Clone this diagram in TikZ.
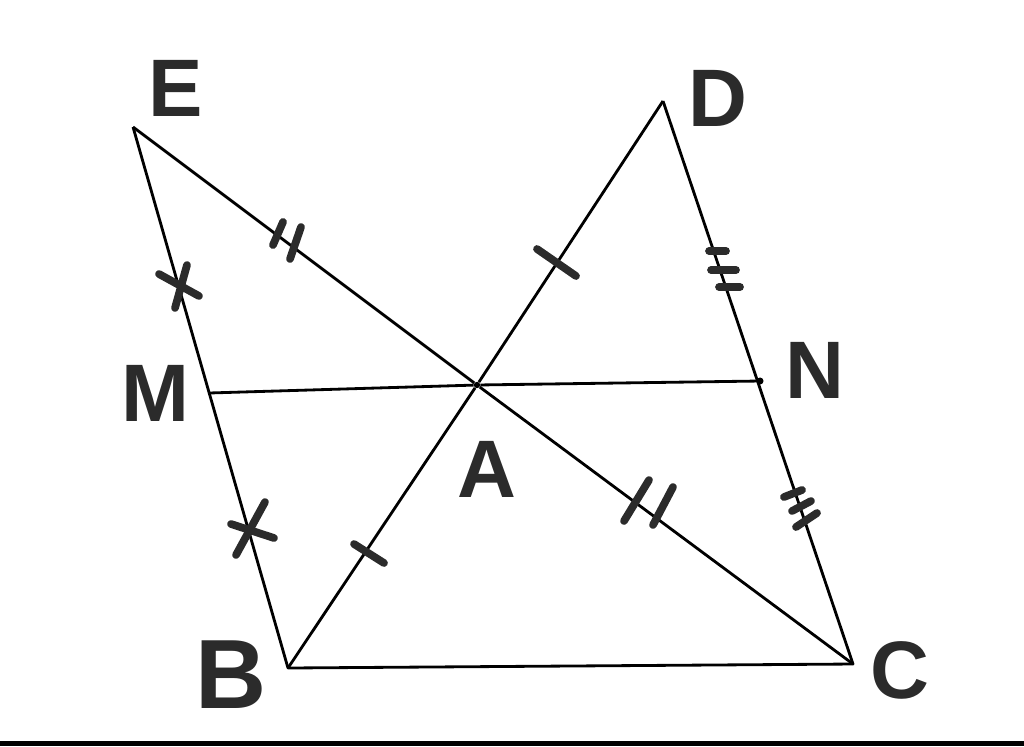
\documentclass[tikz,border=0pt]{standalone}
\usepackage{fontspec}
\setmainfont{Liberation Sans}
\usetikzlibrary{calc}
\definecolor{pen}{gray}{0.17}
\tikzset{lbl/.style={font=\fontsize{58}{58}\selectfont\bfseries,text=pen,inner sep=0pt},
  eqmark/.style={line width=5.5pt,color=pen,line cap=round},
  side/.style={line width=2pt,line join=round}}
\begin{document}
\begin{tikzpicture}[x=0.025cm,y=-0.025cm]
              \useasboundingbox (0,0) rectangle (1024,746);
              \fill (0,741) rectangle (1024,746);
              \coordinate (E) at (133,127);
              \coordinate (D) at (663,101);
              \coordinate (B) at (288,668);
              \coordinate (C) at (853,664);
              \coordinate (M) at (209,393);
              \coordinate (N) at (760,381);
              \node[circle,fill,inner sep=1.6pt](A)at(477,385){};
              \draw[side] (E)--(B)--(C)--(D);
              \draw[side] (E)--(A)--(C);
              \draw[side] (D)--(A)--(B);
              \draw[side] (M)--(A)--(N);
              \fill (N) circle (2.5pt);
              % equal marks
              \draw[eqmark] (283,222)--(273,245);
              \draw[eqmark] (301,227)--(290,259);
              \draw[eqmark] (649,480)--(624,521);
              \draw[eqmark] (673,487)--(653,525);
              \draw[eqmark] (537,249)--(576,276);
              \draw[eqmark] (354,544)--(384,563);
              \draw[eqmark] (159,274)--(199,296);
              \draw[eqmark] (187,265)--(175,308);
              \draw[eqmark] (231,524)--(274,538);
              \draw[eqmark] (265,502)--(236,555);
              \draw[eqmark] (709,251)--(726,251);
              \draw[eqmark] (711,270)--(736,270);
              \draw[eqmark] (719,287)--(740,287);
              \draw[eqmark] (784,497)--(802,490);
              \draw[eqmark] (792,511)--(811,501);
              \draw[eqmark] (796,527)--(817,513);
              % labels
              \node[lbl] (lE) at (176,88) {E};
              \node[lbl] (lD) at (718,98) {D};
              \node[lbl] (lM) at (155,393) {M};
              \node[lbl] (lN) at (815,370) {N};
              \node[lbl] (lA) at (487,469) {A};
              \node[lbl,font=\fontsize{70}{70}\selectfont\bfseries] (lB) at (231,675) {B};
              \node[lbl] (lC) at (900,670) {C};
            \end{tikzpicture}
\end{document}
